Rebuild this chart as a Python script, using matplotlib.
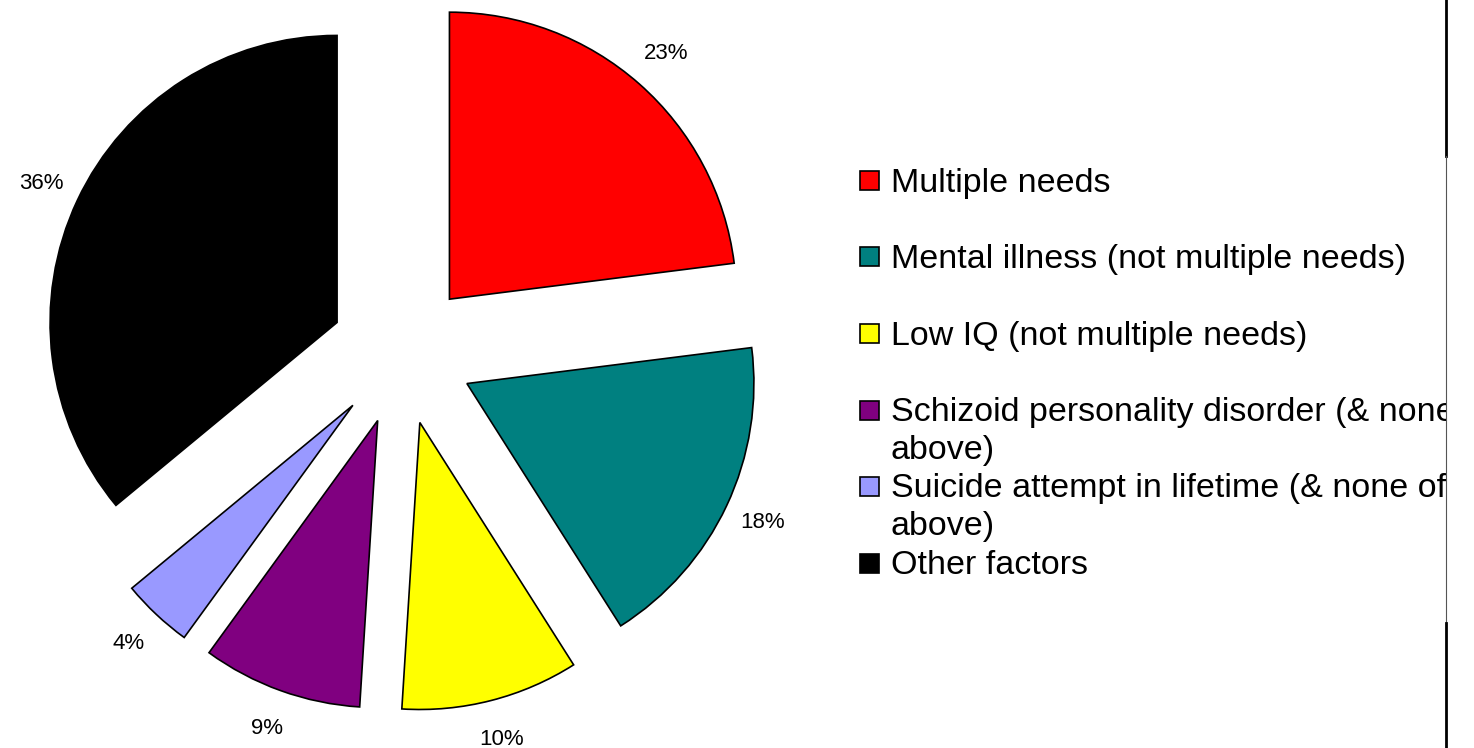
import matplotlib.pyplot as plt
from matplotlib.transforms import Bbox, TransformedBbox
from matplotlib.patches import Rectangle
from matplotlib.lines import Line2D

plt.rcParams['font.family'] = ['Liberation Sans', 'DejaVu Sans']

labels = ["Multiple needs",
          "Mental illness (not multiple needs)",
          "Low IQ (not multiple needs)",
          "Schizoid personality disorder (& none of\nabove)",
          "Suicide attempt in lifetime (& none of\nabove)",
          "Other factors"]
shares = [23, 18, 10, 9, 4, 36]
colors = ["#FF0000", "#008080", "#FFFF00", "#800080", "#9999FF", "#000000"]

W, H = 1474, 748
fig = plt.figure(figsize=(W / 100, H / 100), dpi=100)

# pie centre / radius in pixels, axes scaled so radius == 1
cx, cy, r = 402, 353, 287
ax = fig.add_axes([0, 0, 1, 1])

wedges, texts = ax.pie(shares, colors=colors, startangle=90, counterclock=False,
                       explode=[0.25] * len(shares), radius=1,
                       labels=[f"{v}%" for v in shares], labeldistance=1.14,
                       wedgeprops=dict(edgecolor='black', linewidth=1.2))
for t in texts:
    t.set_fontsize(16)
    t.set_ha('center')
    t.set_va('center')

ax.set_aspect('auto')
ax.set_xlim(-cx / r, (W - cx) / r)
ax.set_ylim(-(H - cy) / r, cy / r)
ax.axis('off')

# legend drawn by hand, clipped at the chart border
clip = TransformedBbox(Bbox([[0, 0], [1446 / W, 1]]), fig.transFigure)
for i, (lab, col) in enumerate(zip(labels, colors)):
    yc = 180.5 + 76.5 * i
    fig.add_artist(Rectangle((860 / W, 1 - (yc + 9.5) / H), 19 / W, 19 / H,
                             transform=fig.transFigure, facecolor=col,
                             edgecolor='black', linewidth=1.2))
    for k, line in enumerate(lab.split("\n")):
        t = fig.text(891 / W, 1 - (yc + 11 + 38 * k) / H, line, fontsize=24.5,
                     ha='left', va='baseline', color='black')
        t.set_clip_box(clip)
        t.set_clip_on(True)

# right border of the chart area
x_b = 1445.5 / W
fig.add_artist(Line2D([x_b, x_b], [1, 1 - 156 / H], transform=fig.transFigure,
                      color='black', linewidth=2))
fig.add_artist(Line2D([1446.3 / W, 1446.3 / W], [1 - 156 / H, 1 - 623 / H],
                      transform=fig.transFigure, color='#555555', linewidth=0.8))
fig.add_artist(Line2D([x_b, x_b], [1 - 623 / H, 0], transform=fig.transFigure,
                      color='black', linewidth=2))

fig.savefig("out.png", dpi=100, facecolor='white')
